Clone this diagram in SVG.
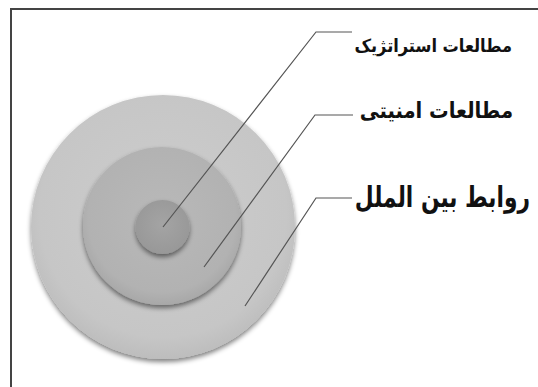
<svg xmlns="http://www.w3.org/2000/svg" width="538" height="387" viewBox="0 0 538 387">
<defs>
<filter id="sh" x="-20%" y="-20%" width="140%" height="140%">
<feGaussianBlur in="SourceAlpha" stdDeviation="2.5"/>
<feOffset dy="3" result="b"/>
<feComponentTransfer><feFuncA type="linear" slope="0.5"/></feComponentTransfer>
<feMerge><feMergeNode/><feMergeNode in="SourceGraphic"/></feMerge>
</filter>
<radialGradient id="gOuter" cx="0.5" cy="0.45" r="0.55">
<stop offset="0" stop-color="#cdcdcd"/><stop offset="0.85" stop-color="#c6c6c6"/><stop offset="1" stop-color="#bdbdbd"/>
</radialGradient>
<radialGradient id="gMid" cx="0.5" cy="0.45" r="0.55">
<stop offset="0" stop-color="#b9b9b9"/><stop offset="0.85" stop-color="#b2b2b2"/><stop offset="1" stop-color="#a8a8a8"/>
</radialGradient>
<radialGradient id="gIn" cx="0.5" cy="0.45" r="0.55">
<stop offset="0" stop-color="#a4a4a4"/><stop offset="1" stop-color="#989898"/>
</radialGradient>
</defs>
<style>
.lbl{font-family:"DejaVu Sans","Noto Sans",sans-serif;font-weight:bold;fill:#111;text-anchor:end;}
.con{fill:none;stroke:#555;stroke-width:1.2;}
</style>
<rect x="0" y="0" width="538" height="387" fill="#fff"/>
<path d="M11 387 V9 H538" fill="none" stroke="#444" stroke-width="2"/>
<g id="outer"><circle cx="163" cy="227" r="132" fill="url(#gOuter)" filter="url(#sh)"/></g>
<g id="middle"><circle cx="162" cy="226" r="79" fill="url(#gMid)" filter="url(#sh)"/></g>
<g id="inner"><circle cx="162.5" cy="227" r="27" fill="url(#gIn)" filter="url(#sh)"/></g>
<g id="connectors">
<path class="con" d="M163 227 L316 32 H352"/>
<path class="con" d="M204 267 L315 115 H353"/>
<path class="con" d="M245 306 L316 198 H352"/>
</g>
<g id="label-strategic"><text class="lbl" transform="translate(512 52) scale(0.9 1)" x="0" y="0" font-size="18">مطالعات استراتژیک</text></g>
<g id="label-security"><text class="lbl" transform="translate(513 118) scale(0.89 1)" x="0" y="0" font-size="22">مطالعات امنیتی</text></g>
<g id="label-ir"><text class="lbl" transform="translate(530 207) scale(0.75 1)" x="0" y="0" font-size="29">روابط بین الملل</text></g>
</svg>
